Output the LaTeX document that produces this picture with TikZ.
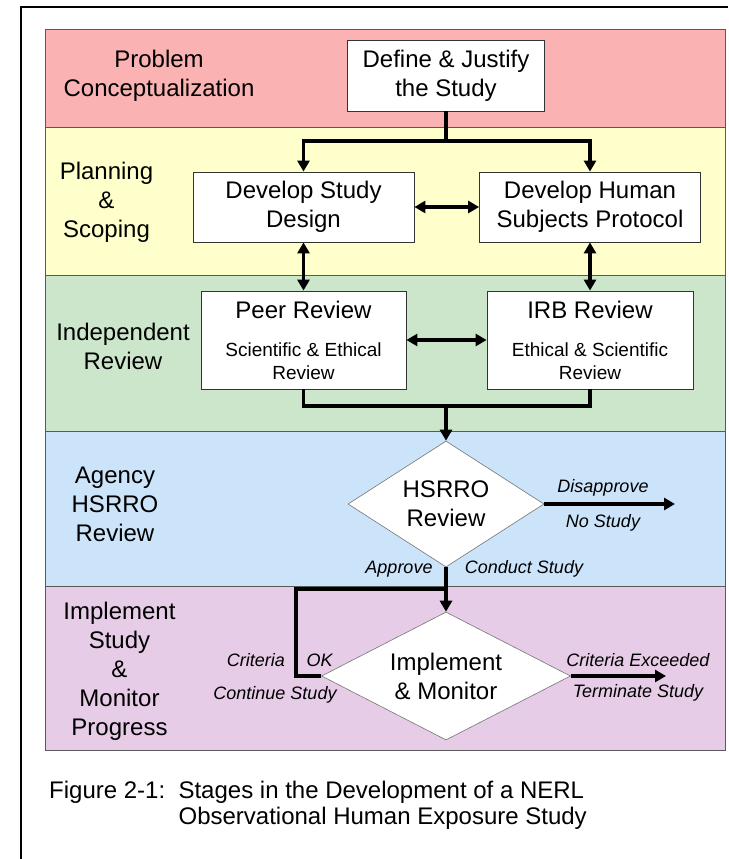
\documentclass[tikz,border=0pt]{standalone}
\usepackage{fontspec}
\setmainfont{Liberation Sans}
\usetikzlibrary{arrows.meta,positioning,shapes.geometric}
\definecolor{bred}{RGB}{250,178,178}
\definecolor{byel}{RGB}{255,255,204}
\definecolor{bgrn}{RGB}{204,230,204}
\definecolor{bblu}{RGB}{204,228,250}
\definecolor{bpur}{RGB}{230,204,230}
\newcommand{\kis}{\fontsize{19}{23}\selectfont}
\tikzset{
  band/.style={draw=black!65,line width=0.8pt},
  box/.style={draw=black!80,fill=white,line width=0.8pt,align=center,inner sep=0pt},
  choice/.style={diamond,draw=black!55,fill=white,line width=0.6pt,align=center,inner sep=0pt},
  wire/.style={line width=3.2pt},
  arr/.style={wire,-{Triangle[length=11pt,width=12pt]}},
  twoway/.style={wire,{Triangle[length=11pt,width=12pt]}-{Triangle[length=11pt,width=12pt]}},
  stage/.style={align=center,inner sep=0pt},
  note/.style={font=\fontsize{18}{22}\selectfont\itshape,inner sep=0pt},
  caption/.style={align=left,inner sep=0pt,font=\fontsize{24}{29}\selectfont},
}
\begin{document}
\begin{tikzpicture}[x=1pt,y=-1pt,font=\fontsize{24}{29}\selectfont]
  \useasboundingbox (0,0) rectangle (728,859);
  \draw[line width=1.5pt] (20,7) -- (728,7) (21,7) -- (21,859);
  \foreach \c/\a/\b in {bred/29/127,byel/127/275,bgrn/275/431,bblu/431/586,bpur/586/750}
    \draw[band,fill=\c] (45,\a) rectangle (725,\b);
  \node[stage] (s1) at (159,76) {Problem\\Conceptualization};
  \node[stage] (s2) at (106.5,202) {Planning\\\&\\Scoping};
  \node[stage] (s3) at (123,346) {Independent\\Review};
  \node[stage] (s4) at (115,504) {Agency\\HSRRO\\Review};
  \node[stage] (s5) at (119.5,671) {Implement\\Study\\\&\\Monitor\\Progress};
  \node[box,minimum width=197pt,minimum height=71pt] (define) at (446,75.5) {Define \& Justify\\the Study};
  \node[box,minimum width=221pt,minimum height=70pt] (design) at (303.5,207) {Develop Study\\Design};
  \node[box,minimum width=221pt,minimum height=70pt] (human) at (590,207) {Develop Human\\Subjects Protocol};
  \node[box,minimum width=205pt,minimum height=98pt] (peer) at (303.5,340)
    {Peer Review\\[9pt]\kis Scientific \& Ethical\\[-6pt]\kis Review};
  \node[box,minimum width=206pt,minimum height=98pt] (irb) at (590,340)
    {IRB Review\\[9pt]\kis Ethical \& Scientific\\[-6pt]\kis Review};
  \node[choice,aspect=1.55,minimum width=196pt,minimum height=126pt] (hsrro) at (446,504) {HSRRO\\Review};
  \node[choice,aspect=1.95,minimum width=249pt,minimum height=128pt] (impl) at (446,676) {Implement\\\& Monitor};
  \coordinate (split) at (446,141);
  \coordinate (merge) at (446,406);
  \coordinate (nostudy) at (675,504);
  \coordinate (loop) at (296,589);
  \coordinate (join) at (446,589);
  \coordinate (stop) at (666,676);
  \draw[wire] (define) -- (split);
  \draw[arr] (split) -| (design);
  \draw[arr] (split) -| (human);
  \draw[twoway] (design) -- (human);
  \draw[twoway] (design) -- (peer);
  \draw[twoway] (human) -- (irb);
  \draw[twoway] (peer) -- (irb);
  \draw[wire] (peer) |- (merge) -| (irb);
  \draw[arr] (merge) -- (hsrro);
  \draw[arr] (hsrro) -- (nostudy);
  \draw[arr] (hsrro) -- (impl);
  \draw[wire] (impl) -| (loop) -- (join);
  \draw[arr] (impl) -- (stop);
  \node[note] (dis) at (603,488) {Disapprove};
  \node[note] (nos) at (603,523) {No Study};
  \node[note] (apr) at (399,569) {Approve};
  \node[note] (cds) at (524,569) {Conduct Study};
  \node[note] (crit) at (256,660) {Criteria};
  \node[note] (ok) at (319.5,660) {OK};
  \node[note] (cont) at (275,695) {Continue Study};
  \node[note] (exc) at (638,660) {Criteria Exceeded};
  \node[note] (term) at (638,693) {Terminate Study};
  \node[caption,anchor=west] (fig) at (49,805)
    {Figure 2-1:\ \ Stages in the Development of a NERL\\[-3pt]\phantom{Figure 2-1:\ \ }Observational Human Exposure Study};
\end{tikzpicture}
\end{document}
